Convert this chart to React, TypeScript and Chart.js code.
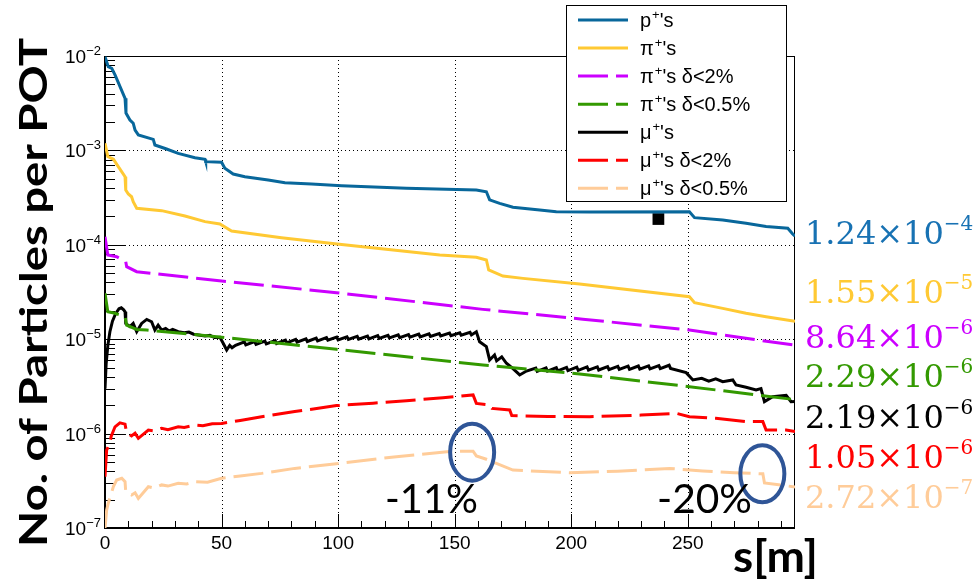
import { useEffect, useRef } from 'react';
import { Chart, registerables } from 'chart.js';

Chart.register(...registerables);

// Beam-line position s [m] and particle yield per POT, one pair of arrays per species.
const protonS = [0, 1.4, 2.9, 4.3, 8.6, 9.0, 10.7, 12.1, 12.9, 14.3, 20.7, 21.4, 26.4, 31.4, 38.6, 42.9, 43.2, 50.0, 51.4, 55.0, 60, 70, 77.2, 88.6, 101.5, 129.3, 159.3, 163.6, 165, 169.3, 175, 186.5, 193.6, 207.9, 250.7, 252.9, 265, 275, 283.6, 292.9, 295, 296];
const protonN = [9.8e-3, 7.7e-3, 7.4e-3, 6.3e-3, 3.56e-3, 2.49e-3, 2.1e-3, 1.94e-3, 1.64e-3, 1.46e-3, 1.31e-3, 1.14e-3, 1.035e-3, 9.3e-4, 8.37e-4, 8.05e-4, 7.6e-4, 7.48e-4, 6.46e-4, 5.62e-4, 5.26e-4, 4.85e-4, 4.55e-4, 4.41e-4, 4.23e-4, 3.97e-4, 3.8e-4, 3.65e-4, 2.99e-4, 2.75e-4, 2.5e-4, 2.34e-4, 2.24e-4, 2.22e-4, 2.24e-4, 1.94e-4, 1.83e-4, 1.69e-4, 1.56e-4, 1.5e-4, 1.3e-4, 1.24e-4];

const pionS = [0, 1.2, 3.6, 5.7, 8.6, 8.9, 10.0, 11.4, 12.1, 13.6, 24.3, 34.3, 42.9, 49.3, 54.3, 75.7, 101.5, 143.6, 159.3, 163.6, 164.6, 170.7, 179.3, 203.6, 250.7, 252.9, 265, 275, 283.6, 296];
const pionN = [1.19e-3, 8.6e-4, 8.05e-4, 6.72e-4, 5.27e-4, 3.81e-4, 3.45e-4, 3.23e-4, 2.86e-4, 2.44e-4, 2.3e-4, 2.02e-4, 1.76e-4, 1.66e-4, 1.4e-4, 1.19e-4, 1.01e-4, 7.8e-5, 7.38e-5, 6.9e-5, 5.41e-5, 4.67e-5, 4.41e-5, 3.85e-5, 2.82e-5, 2.44e-5, 2.12e-5, 1.88e-5, 1.73e-5, 1.55e-5];

const pion2S = [0, 1.2, 5.0, 8.9, 9.3, 13.6, 50.0, 99.3, 162.1, 205, 250.7, 277.9, 296];
const pion2N = [1.22e-4, 7.8e-5, 7.48e-5, 6.62e-5, 5.86e-5, 5.19e-5, 4.14e-5, 3.11e-5, 2.07e-5, 1.63e-5, 1.25e-5, 9.98e-6, 8.64e-6];

const pion05S = [0, 1.2, 4.3, 8.6, 9.3, 13.6, 17.9, 50, 99.3, 162.1, 203.6, 250.7, 296];
const pion05N = [3.06e-5, 1.95e-5, 1.88e-5, 1.73e-5, 1.41e-5, 1.27e-5, 1.25e-5, 1.05e-5, 7.82e-6, 5.33e-6, 4.28e-6, 3.14e-6, 2.29e-6];

const muonS = [
  0, 0.5, 1.2, 2.1, 3.2, 4.5, 6, 7, 8, 8.6, 8.9, 10.7, 12.1, 13.6, 15.7, 17.9, 20, 21.4, 22.8, 24.3,
  26, 27.5, 29, 31.4, 34, 36, 38, 42.9, 45, 47, 49.3, 50.7, 52.2, 53.5, 54.5, 56,
  59.8, 60.4, 64.2, 64.8, 68.6, 69.2, 73, 73.6, 77.4, 78, 81.8, 82.4, 86.2, 86.8, 90.6, 91.2, 95, 95.6, 99.4, 100,
  103.8, 104.4, 108.2, 108.8, 112.6, 113.2, 117, 117.6, 121.4, 122, 125.8, 126.4, 130.2, 130.8, 134.6, 135.2,
  139, 139.6, 143.4, 144, 147.8, 148.4, 152.2, 152.8, 156.6, 157.2, 159.3,
  160.7, 163.6, 165, 167.1, 168, 170.2, 172.2, 174.9, 177.9, 180.8,
  184.8, 185.4, 189.2, 189.8, 193.6, 194.2, 198, 198.6, 202.4, 203, 206.8, 207.4, 211.2, 211.8,
  215.6, 216.2, 220, 220.6, 224.4, 225, 228.8, 229.4, 233.2, 233.8, 237.6, 238.2, 242, 242.6,
  249.3, 252.2, 256, 259, 262, 265, 269.3, 270.7, 275, 279.3, 281.4, 282.9, 286.4, 292.2, 294.3, 296,
];
const muonN = [
  3.0e-6, 5.5e-6, 8.5e-6, 1.2e-5, 1.55e-5, 1.85e-5, 2.1e-5, 2.15e-5, 2.05e-5, 1.95e-5, 1.47e-5, 1.36e-5, 1.47e-5, 1.2e-5, 1.47e-5, 1.62e-5, 1.53e-5, 1.25e-5, 1.41e-5, 1.25e-5,
  1.3e-5, 1.22e-5, 1.27e-5, 1.2e-5, 1.17e-5, 1.19e-5, 1.13e-5, 1.08e-5, 1.1e-5, 1.04e-5, 1.05e-5, 9.05e-6, 7.69e-6, 8.6e-6, 8.1e-6, 8.6e-6,
  9.35e-6, 8.7e-6, 9.45e-6, 8.8e-6, 9.55e-6, 8.9e-6, 9.65e-6, 9.0e-6, 9.8e-6, 9.15e-6, 9.95e-6, 9.3e-6, 1.01e-5, 9.45e-6, 1.025e-5, 9.6e-6, 1.04e-5, 9.75e-6, 1.055e-5, 9.85e-6,
  1.06e-5, 9.95e-6, 1.07e-5, 1.0e-5, 1.08e-5, 1.01e-5, 1.09e-5, 1.02e-5, 1.1e-5, 1.03e-5, 1.11e-5, 1.04e-5, 1.12e-5, 1.05e-5, 1.13e-5, 1.06e-5,
  1.14e-5, 1.07e-5, 1.15e-5, 1.08e-5, 1.16e-5, 1.09e-5, 1.17e-5, 1.1e-5, 1.18e-5, 1.11e-5, 1.2e-5,
  9.4e-6, 8.34e-6, 6.03e-6, 6.8e-6, 5.9e-6, 6.5e-6, 5.56e-6, 4.9e-6, 4.18e-6, 4.6e-6,
  4.95e-6, 4.57e-6, 4.97e-6, 4.6e-6, 5.0e-6, 4.62e-6, 5.02e-6, 4.65e-6, 5.05e-6, 4.68e-6, 5.08e-6, 4.7e-6, 5.1e-6, 4.72e-6,
  5.12e-6, 4.75e-6, 5.15e-6, 4.78e-6, 5.18e-6, 4.8e-6, 5.2e-6, 4.82e-6, 5.22e-6, 4.85e-6, 5.25e-6, 4.88e-6, 5.3e-6, 4.9e-6,
  4.42e-6, 3.7e-6, 3.85e-6, 3.6e-6, 3.8e-6, 3.55e-6, 3.7e-6, 3.27e-6, 3.1e-6, 2.9e-6, 3.0e-6, 2.18e-6, 2.46e-6, 2.55e-6, 2.18e-6, 2.19e-6,
];

const muon2S = [0, 0.7, 2.1, 2.6, 4.3, 6.4, 8.6, 9.3, 10.5, 11.4, 12.9, 14.3, 18.6, 21, 24.3, 27, 31.4, 34, 38.6, 42, 46, 50, 58, 67.2, 81.4, 99.3, 115, 129.3, 145, 157.9, 159.3, 165, 166, 173.6, 174.5, 190, 207.9, 230, 245, 250.7, 262, 275, 282.2, 283.6, 292.2, 296];
const muon2N = [3.49e-7, 6.7e-7, 7.89e-7, 9.27e-7, 1.18e-6, 1.3e-6, 1.26e-6, 1.01e-6, 9.8e-7, 9.44e-7, 1.01e-6, 8.91e-7, 1.09e-6, 1.07e-6, 1.14e-6, 1.1e-6, 1.18e-6, 1.16e-6, 1.23e-6, 1.21e-6, 1.27e-6, 1.28e-6, 1.38e-6, 1.51e-6, 1.71e-6, 1.98e-6, 2.1e-6, 2.23e-6, 2.4e-6, 2.57e-6, 2.09e-6, 2.01e-6, 1.85e-6, 1.78e-6, 1.55e-6, 1.52e-6, 1.51e-6, 1.57e-6, 1.64e-6, 1.51e-6, 1.45e-6, 1.34e-6, 1.34e-6, 1.09e-6, 1.09e-6, 1.05e-6];

const muon05S = [0, 0.7, 1.4, 3.6, 5, 7.2, 8.6, 8.9, 11.4, 12.9, 14.3, 18.6, 21, 24.3, 27, 31.4, 35, 38.6, 44, 50, 58, 67.2, 81.4, 102.9, 125, 149.3, 157.9, 159.3, 163.6, 167.9, 175, 199.3, 220, 242.2, 256.4, 270, 282.2, 282.9, 290, 296];
const muon05N = [1.0e-7, 1.55e-7, 1.83e-7, 2.74e-7, 3.22e-7, 3.36e-7, 3.09e-7, 2.42e-7, 2.24e-7, 2.36e-7, 2.06e-7, 2.74e-7, 2.65e-7, 2.86e-7, 2.78e-7, 2.98e-7, 2.92e-7, 3.09e-7, 3.05e-7, 3.36e-7, 3.55e-7, 3.79e-7, 4.28e-7, 4.92e-7, 5.7e-7, 6.5e-7, 6.5e-7, 5.8e-7, 5.35e-7, 4.84e-7, 4.11e-7, 3.85e-7, 4.0e-7, 4.28e-7, 4.02e-7, 3.85e-7, 3.75e-7, 3.0e-7, 2.85e-7, 2.72e-7];

// Single marker sitting on the proton curve.
const markerS = [237.4];
const markerN = [1.875e-4];

// Ringed drops on the μ⁺ δ<0.5% curve and their quoted losses.
const ringS = [157.5, 282];
const ringN = [6.35e-7, 3.75e-7];
const ringTexts = ['-11%', '-20%'];

const seriesS = [protonS, pionS, pion2S, pion05S, muonS, muon2S, muon05S];
const seriesN = [protonN, pionN, pion2N, pion05N, muonN, muon2N, muon05N];
const particleSymbols = ['p', 'π', 'π', 'π', 'μ', 'μ', 'μ'];
const momentumCuts = ['', '', ' δ<2%', ' δ<0.5%', '', ' δ<2%', ' δ<0.5%'];
const seriesColors = ['#08679b', '#ffc933', '#cc00ff', '#339900', '#000000', '#ff0000', '#ffcc99'];
const endLabelColors = ['#1872b3', '#ffc933', '#cc00ff', '#339900', '#000000', '#ff0000', '#ffcc99'];
const seriesDashed = [false, false, true, true, false, true, true];

const xMax = 296;
const xMinorStep = 10;
const xLabelValues = [0, 50, 100, 150, 200, 250];
const yDecades = [-7, -6, -5, -4, -3, -2];

const DASH = [30, 8];
const SANS = '"Liberation Sans", Arial, sans-serif';
const CALIBRI_LIKE = 'Lato, "Open Sans", sans-serif';

function sci(v: number) {
  const e = Math.floor(Math.log10(v) + 1e-9);
  const m = v / Math.pow(10, e);
  return { mant: m.toFixed(2), exp: e };
}

function fitText(ctx: CanvasRenderingContext2D, text: string, x: number, y: number, width: number, align: 'left' | 'center') {
  const w = ctx.measureText(text).width;
  ctx.save();
  ctx.translate(x, y);
  ctx.scale(width / w, 1);
  ctx.textAlign = align;
  ctx.fillText(text, 0, 0);
  ctx.restore();
}

const framePlugin = {
  id: 'frame',
  beforeDatasetsDraw(chart: any) {
    const { ctx, chartArea: a } = chart;
    const xs = chart.scales.x;
    const ys = chart.scales.y;
    ctx.save();
    ctx.strokeStyle = '#000';
    ctx.lineWidth = 1;
    // dotted grid at the labelled values
    ctx.setLineDash([1, 3]);
    ctx.beginPath();
    xLabelValues.forEach((v) => {
      if (v <= 0) return;
      const px = Math.round(xs.getPixelForValue(v)) + 0.5;
      ctx.moveTo(px, a.top);
      ctx.lineTo(px, a.bottom);
    });
    yDecades.forEach((e) => {
      if (e === yDecades[0]) return;
      const py = Math.round(ys.getPixelForValue(Math.pow(10, e))) + 0.5;
      ctx.moveTo(a.left, py);
      ctx.lineTo(a.right, py);
    });
    ctx.stroke();
    ctx.setLineDash([]);

    // inward tick marks
    ctx.beginPath();
    for (let v = 0; v < xMax; v += xMinorStep) {
      const px = Math.round(xs.getPixelForValue(v)) + 0.5;
      const len = v % 50 === 0 ? 14 : 7;
      ctx.moveTo(px, a.bottom);
      ctx.lineTo(px, a.bottom - len);
    }
    yDecades.forEach((e) => {
      for (let m = 1; m <= 9; m++) {
        if (e === yDecades[yDecades.length - 1] && m > 1) break;
        const py = Math.round(ys.getPixelForValue(m * Math.pow(10, e))) + 0.5;
        const len = m === 1 ? 20 : 10;
        ctx.moveTo(a.left, py);
        ctx.lineTo(a.left + len, py);
      }
    });
    ctx.stroke();

    // frame
    ctx.lineWidth = 1;
    ctx.strokeRect(a.left + 0.5, a.top + 0.5, a.right - a.left - 1, a.bottom - a.top - 1);
    ctx.lineWidth = 2;
    ctx.beginPath();
    ctx.moveTo(a.left, a.top);
    ctx.lineTo(a.left, a.bottom);
    ctx.lineTo(a.right, a.bottom);
    ctx.stroke();

    // tick labels
    ctx.fillStyle = '#000';
    ctx.textBaseline = 'alphabetic';
    ctx.font = `19px ${SANS}`;
    ctx.textAlign = 'center';
    xLabelValues.forEach((v) => {
      ctx.fillText(String(v), xs.getPixelForValue(v), a.bottom + 21);
    });
    yDecades.forEach((e) => {
      const py = ys.getPixelForValue(Math.pow(10, e));
      const expText = '\u2212' + Math.abs(e);
      ctx.font = `13px ${SANS}`;
      const ew = ctx.measureText(expText).width;
      ctx.textAlign = 'right';
      ctx.fillText(expText, a.left - 4, py - 1);
      ctx.font = `19px ${SANS}`;
      ctx.fillText('10', a.left - 4 - ew, py + 7);
    });
    ctx.restore();
  },
  afterDatasetsDraw(chart: any) {
    const { ctx } = chart;
    const xs = chart.scales.x;
    const ys = chart.scales.y;
    ctx.save();
    ctx.strokeStyle = '#2f5597';
    ctx.lineWidth = 4;
    ringS.forEach((s, i) => {
      ctx.beginPath();
      ctx.ellipse(xs.getPixelForValue(s), ys.getPixelForValue(ringN[i]), 22, 28.5, 0, 0, Math.PI * 2);
      ctx.stroke();
    });
    ctx.restore();
  },
  afterDraw(chart: any) {
    const { ctx } = chart;
    ctx.save();

    // legend box
    const lx = 566.5, ly = 5.5, lw = 220, lh = 196;
    ctx.fillStyle = '#fff';
    ctx.fillRect(lx, ly, lw, lh);
    ctx.strokeStyle = '#000';
    ctx.lineWidth = 1;
    ctx.strokeRect(lx, ly, lw, lh);
    particleSymbols.forEach((sym, i) => {
      const ry = 20 + i * 28.05;
      ctx.strokeStyle = seriesColors[i];
      ctx.lineWidth = 3;
      ctx.setLineDash(seriesDashed[i] ? DASH : []);
      ctx.beginPath();
      ctx.moveTo(578, ry);
      ctx.lineTo(628, ry);
      ctx.stroke();
      ctx.setLineDash([]);
      ctx.fillStyle = '#000';
      ctx.textAlign = 'left';
      ctx.textBaseline = 'alphabetic';
      let tx = 640;
      ctx.font = `20px ${SANS}`;
      ctx.fillText(sym, tx, ry + 7);
      tx += ctx.measureText(sym).width + 1;
      ctx.font = `13px ${SANS}`;
      ctx.fillText('+', tx, ry - 1);
      tx += ctx.measureText('+').width;
      ctx.font = `20px ${SANS}`;
      ctx.fillText("'s" + momentumCuts[i], tx, ry + 7);
    });

    // end-point values at the right
    const baselines = [244, 303, 348, 386.5, 428, 468, 508];
    seriesN.forEach((arr, i) => {
      const { mant, exp } = sci(arr[arr.length - 1]);
      ctx.fillStyle = endLabelColors[i];
      ctx.textAlign = 'left';
      ctx.font = '32px "DejaVu Serif", serif';
      const main = mant + '\u00d710';
      ctx.fillText(main, 805, baselines[i]);
      const w = ctx.measureText(main).width;
      ctx.font = '20px "DejaVu Serif", serif';
      ctx.fillText('\u2212' + Math.abs(exp), 805 + w, baselines[i] - 14);
    });

    // loss annotations
    ctx.fillStyle = '#000';
    ctx.font = `40px ${CALIBRI_LIKE}`;
    fitText(ctx, ringTexts[0], 385, 513, 93, 'left');
    fitText(ctx, ringTexts[1], 657, 513, 95, 'left');

    // axis titles
    ctx.font = `bold 38px ${CALIBRI_LIKE}`;
    ctx.save();
    ctx.translate(47, 292.5);
    ctx.rotate(-Math.PI / 2);
    fitText(ctx, 'No. of Particles per POT', 0, 0, 509, 'center');
    ctx.restore();
    ctx.font = `bold 43px ${CALIBRI_LIKE}`;
    fitText(ctx, 's[m]', 733, 572, 85, 'left');

    ctx.restore();
  },
};

export default function App() {
  const canvasRef = useRef<HTMLCanvasElement | null>(null);

  useEffect(() => {
    const canvas = canvasRef.current;
    if (!canvas) return;
    const datasets: any[] = seriesS.map((xs, i) => ({
      label: particleSymbols[i] + "⁺'s" + momentumCuts[i],
      data: xs.map((s, j) => ({ x: s, y: seriesN[i][j] })),
      borderColor: seriesColors[i],
      backgroundColor: seriesColors[i],
      borderWidth: 3,
      borderDash: seriesDashed[i] ? DASH : [],
      borderCapStyle: 'butt',
      borderJoinStyle: 'miter',
      pointRadius: 0,
      tension: 0,
      fill: false,
    }));
    datasets.push({
      type: 'scatter',
      label: 'marker',
      data: markerS.map((s, j) => ({ x: s, y: markerN[j] })),
      pointStyle: 'rect',
      pointRadius: 8.3,
      backgroundColor: '#000',
      borderWidth: 0,
      showLine: false,
    });

    const chart = new Chart(canvas, {
      type: 'line',
      data: { datasets },
      options: {
        responsive: false,
        animation: false,
        devicePixelRatio: 1,
        layout: { padding: { left: 0, right: 185, top: 56, bottom: 0 } },
        plugins: { legend: { display: false }, tooltip: { enabled: false } },
        scales: {
          x: {
            type: 'linear',
            min: 0,
            max: xMax,
            ticks: { display: false },
            grid: { display: false },
            border: { display: false },
            afterFit: (s: any) => { s.height = 55; },
          },
          y: {
            type: 'logarithmic',
            min: 1e-7,
            max: 1e-2,
            ticks: { display: false },
            grid: { display: false },
            border: { display: false },
            afterFit: (s: any) => { s.width = 105; },
          },
        },
      },
      plugins: [framePlugin],
    });
    return () => chart.destroy();
  }, []);

  return (
    <div style={{ position: 'absolute', left: 0, top: 0, width: 980, height: 583, background: '#fff' }}>
      <canvas ref={canvasRef} width={980} height={583} style={{ width: 980, height: 583, display: 'block' }} />
    </div>
  );
}
